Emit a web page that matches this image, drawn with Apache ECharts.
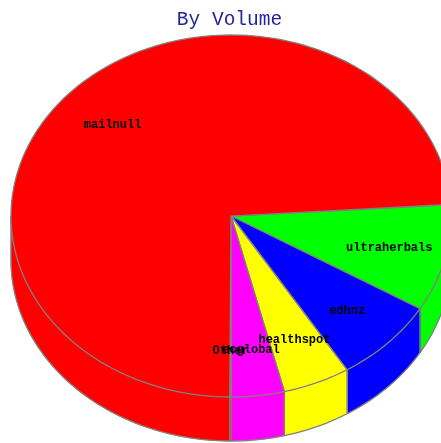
<!DOCTYPE html>
<html><head><meta charset="utf-8">
<style>html,body{margin:0;padding:0;background:#fff}#c{width:441px;height:443px}</style>
<script src="https://cdn.jsdelivr.net/npm/echarts@6/dist/echarts.min.js"></script>
</head><body><div id="c"></div>
<script>
const categories = ['ultraherbals','edhnz','healthspot','ecglobal','Other','mailnull'];
const volumes = [9.57,7.6,4.94,3.89,0.1,73.9];
const sliceColors = ['#00ff00','#0000ff','#ffff00','#ff00ff','#ff0000','#ff0000'];
const startAngle = -3.64, depth = 0.243, labelRadius = 0.74, edge = '#808080';

const total = volumes.reduce((a,b)=>a+b,0);
let acc = startAngle;
const rows = volumes.map((v,i)=>{const a0=acc; acc+=v/total*360; return [i,a0,acc];});
const rad = d=>d*Math.PI/180;
function arc(a0,a1,dy,api){
  const n=Math.max(2,Math.ceil((a1-a0)/1.5)), pts=[];
  for(let k=0;k<=n;k++){const t=rad(a0+(a1-a0)*k/n);pts.push(api.coord([Math.cos(t),Math.sin(t)+dy]));}
  return pts;
}
const lineStyle={stroke:edge,lineWidth:1.3,fill:null};
function sideRange(a0,a1){
  for(const off of [-360,0,360]){
    const s=Math.max(a0,off),e=Math.min(a1,off+180);
    if(e>s) return [s,e];
  }
  return null;
}
const option={
  animation:false,
  title:{text:'By Volume',left:224.5,top:5,textAlign:'center',
    textStyle:{fontFamily:'Liberation Mono',fontSize:19.5,fontWeight:'normal',color:'#24249a'}},
  // the pie runs past the right edge of the picture, so the axis stops where the picture does
  grid:{left:11,top:35,width:430,height:362,containLabel:false},
  xAxis:{type:'value',min:-1,max:0.9545,show:false,scale:true},
  yAxis:{type:'value',min:-1,max:1,inverse:true,show:false},
  series:[{
    type:'custom',coordinateSystem:'cartesian2d',clip:false,silent:true,
    data:rows,
    encode:{x:1,y:2},
    renderItem:(params,api)=>{
      const i=api.value(0),a0=api.value(1),a1=api.value(2),children=[];
      const col=sliceColors[i];
      const r=sideRange(a0,a1);
      if(r){
        const top=arc(r[0],r[1],0,api),bot=arc(r[0],r[1],depth,api);
        children.push({type:'polygon',shape:{points:top.concat(bot.slice().reverse())},style:{fill:col,stroke:col,lineWidth:0.5}});
        children.push({type:'polyline',shape:{points:bot},style:lineStyle});
        [r[0],r[1]].forEach(a=>{
          if(a>=0&&a<=180) children.push({type:'polyline',shape:{points:[arc(a,a,0,api)[0],arc(a,a,depth,api)[0]]},style:lineStyle});
        });
      }
      const rimTop=arc(a0,a1,0,api);
      const c=api.coord([0,0]);
      children.push({type:'polygon',shape:{points:[c].concat(rimTop)},style:{fill:col,stroke:edge,lineWidth:1.3}});
      return {type:'group',children};
    }
  },{
    type:'custom',coordinateSystem:'cartesian2d',clip:false,silent:true,z:5,
    data:rows,
    encode:{x:1,y:2},
    renderItem:(params,api)=>{
      const i=api.value(0),m=rad((api.value(1)+api.value(2))/2);
      const p=api.coord([labelRadius*Math.cos(m),labelRadius*Math.sin(m)]);
      return {type:'text',x:p[0],y:p[1]+1,style:{text:categories[i],fill:'#000',
        font:'bold 12px "Liberation Mono"',align:'center',verticalAlign:'middle'}};
    }
  }]
};
echarts.init(document.getElementById('c'),null,{renderer:'canvas'}).setOption(option);
</script></body></html>
